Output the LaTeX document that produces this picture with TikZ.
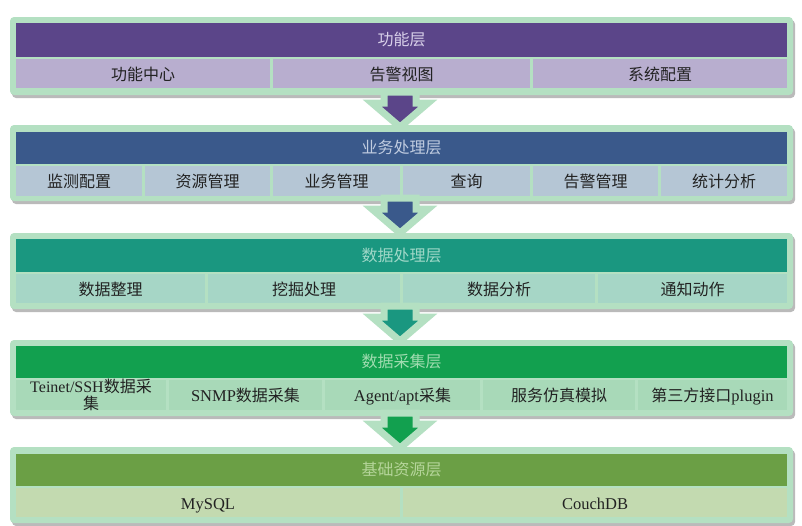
\documentclass[tikz,border=0pt]{standalone}
\usepackage{fontspec}
\setmainfont{Liberation Serif}
\newfontfamily\cjk{Noto Sans CJK SC}
\definecolor{frame}{HTML}{B4E0C2}
\definecolor{hA}{HTML}{5B4589}\definecolor{cA}{HTML}{B8AECF}\definecolor{tA}{HTML}{D9D1EA}
\definecolor{hB}{HTML}{3A598B}\definecolor{cB}{HTML}{B5C6D5}\definecolor{tB}{HTML}{C0CCE0}
\definecolor{hC}{HTML}{1A9780}\definecolor{cC}{HTML}{A6D6C6}\definecolor{tC}{HTML}{A0D8C8}
\definecolor{hD}{HTML}{12A04F}\definecolor{cD}{HTML}{A8D9B8}\definecolor{tD}{HTML}{A0DCB0}
\definecolor{hE}{HTML}{6B9F45}\definecolor{cE}{HTML}{C3DAB0}\definecolor{tE}{HTML}{B5D59A}
\definecolor{txt}{HTML}{222222}
\tikzset{
  cellbox/.style={inner sep=0pt,outer sep=0pt,text=txt,font=\fontsize{16.5}{17}\selectfont,align=center,text height=14.5pt,text depth=1pt},
  twoline/.style={text height=,text depth=,font=\fontsize{16}{16}\selectfont},
  headbox/.style={inner sep=0pt,outer sep=0pt,font=\cjk\fontsize{16}{17}\selectfont,text height=13pt,text depth=2pt},
  framebox/.style={fill=frame,rounded corners=4pt},
  shadowbox/.style={fill=black!45,opacity=0.6,rounded corners=4pt},
  arrowshape/.style={draw=frame,line width=7pt,line join=miter}
}
\newcommand\cj[1]{{\cjk\fontsize{16}{17}\selectfont #1}}
% [opts] name, x1, x2, y1, y2, fill, text
\newcommand\mkcell[8][]{%
  \path[fill=#7] (#3,#5) rectangle (#4,#6);
  \node[cellbox,#1] (#2) at ({(#3+#4)/2},{(#5+#6)/2}) {#8};}
% name, y1 frame top, y2 frame bottom, header top, header bottom, fill, textcolor, text
\newcommand\mklayer[8]{%
  \fill[shadowbox] (12,#2+3) rectangle (795,#3+3);
  \fill[framebox] (10,#2) rectangle (793,#3);
  \node[headbox,fill=#6,text=#7,minimum width=771,minimum height={#5-#4}] (#1) at (401.5,{(#4+#5)/2}) {#8};}
% y0, fill
\newcommand\layerarrow[2]{%
  \draw[arrowshape,fill=#2] (384,#1-3) -- (416,#1-3) -- (416,#1+8) -- (428,#1+8) -- (400,#1+32) -- (372,#1+8) -- (384,#1+8) -- cycle;}
\begin{document}
\begin{tikzpicture}[x=1pt,y=-1pt]
\useasboundingbox[fill=white] (0,0) rectangle (802,525);
% Layer 1
\mklayer{L1}{17}{95}{23}{57}{hA}{tA}{功能层}
\mkcell{a1}{16}{270}{59}{88}{cA}{\cj{功能中心}}
\mkcell{a2}{273}{530}{59}{88}{cA}{\cj{告警视图}}
\mkcell{a3}{533}{787}{59}{88}{cA}{\cj{系统配置}}
% Layer 2
\mklayer{L2}{125}{201}{132}{164}{hB}{tB}{业务处理层}
\mkcell{b1}{16}{142}{166}{196}{cB}{\cj{监测配置}}
\mkcell{b2}{145}{270}{166}{196}{cB}{\cj{资源管理}}
\mkcell{b3}{273}{400}{166}{196}{cB}{\cj{业务管理}}
\mkcell{b4}{403}{530}{166}{196}{cB}{\cj{查询}}
\mkcell{b5}{533}{658}{166}{196}{cB}{\cj{告警管理}}
\mkcell{b6}{661}{787}{166}{196}{cB}{\cj{统计分析}}
% Layer 3
\mklayer{L3}{233}{309}{239}{272}{hC}{tC}{数据处理层}
\mkcell{c1}{16}{205}{274}{303}{cC}{\cj{数据整理}}
\mkcell{c2}{208}{400}{274}{303}{cC}{\cj{挖掘处理}}
\mkcell{c3}{403}{595}{274}{303}{cC}{\cj{数据分析}}
\mkcell{c4}{598}{787}{274}{303}{cC}{\cj{通知动作}}
% Layer 4
\mklayer{L4}{340}{416}{346}{378}{hD}{tD}{数据采集层}
\mkcell[twoline]{d1}{16}{166}{380}{410}{cD}{Teinet/SSH{\cjk 数据采}\\[1pt]{\cjk 集}}
\mkcell{d2}{169}{322}{380}{410}{cD}{SNMP\cj{数据采集}}
\mkcell{d3}{325}{480}{380}{410}{cD}{Agent/apt\cj{采集}}
\mkcell{d4}{483}{635}{380}{410}{cD}{\cj{服务仿真模拟}}
\mkcell{d5}{638}{787}{380}{410}{cD}{\cj{第三方接口}plugin}
% Layer 5
\mklayer{L5}{447}{523}{454}{486}{hE}{tE}{基础资源层}
\mkcell{e1}{16}{400}{488}{517}{cE}{MySQL}
\mkcell{e2}{403}{787}{488}{517}{cE}{CouchDB}
% arrows
\layerarrow{95}{hA}
\layerarrow{201}{hB}
\layerarrow{309}{hC}
\layerarrow{416}{hD}
\end{tikzpicture}
\end{document}
